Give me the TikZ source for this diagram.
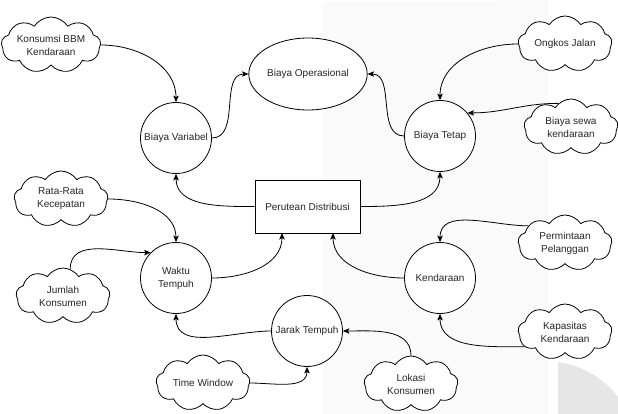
\documentclass[tikz,border=0pt]{standalone}
\usepackage{fontspec}
\setmainfont{Liberation Sans}
\usetikzlibrary{shapes.symbols,shapes.geometric,arrows.meta}
\definecolor{wmA}{HTML}{FAFAFA}
\definecolor{wmB}{HTML}{E6E6E6}
\begin{document}
\begin{tikzpicture}[x=1pt,y=-1pt,
  every node/.style={font=\fontsize{10}{13}\selectfont, text=black!85, align=center, inner sep=1pt},
  cloudbox/.style={cloud, cloud puffs=9, cloud puff arc=115, draw, line width=0.8pt, fill=white,
     minimum width=94pt, minimum height=56pt, cloud ignores aspect},
  circbox/.style={circle, draw, line width=0.8pt, fill=white, minimum size=71pt},
  link/.style={draw, line width=0.8pt, -{Stealth[length=6.5pt,width=5.5pt,inset=1.5pt]}}
]
\useasboundingbox (0,0) rectangle (618,414);
\fill[white] (0,0) rectangle (618,414);
% faint watermark
\fill[wmA] (323,414) -- (323,2) -- (488,2) arc[start angle=90,end angle=0,radius=60] -- (548,414) -- cycle;
\fill[wmB] (558,414) -- (558,362) .. controls (585,366) and (605,380) .. (618,397) -- (618,414) -- cycle;

% nodes
\node[ellipse, draw, line width=0.8pt, fill=white, minimum width=107pt, minimum height=72pt] (bo) at (308,74) {Biaya Operasional};
\node[circbox] (bv) at (176,138) {Biaya Variabel};
\node[circbox] (bt) at (440,136) {Biaya Tetap};
\node[rectangle, draw, line width=0.8pt, fill=white, minimum width=105pt, minimum height=53pt] (pd) at (307.5,206.5) {Perutean Distribusi};
\node[circbox] (wt) at (176,278) {Waktu\\Tempuh};
\node[circbox] (jt) at (307,331) {Jarak Tempuh};
\node[circbox] (kd) at (440,278) {Kendaraan};

\node[cloudbox] (kbbm) at (51,45) {Konsumsi BBM\\Kendaraan};
\node[cloudbox] (oj) at (565,44) {Ongkos Jalan};
\node[cloudbox] (bs) at (571,127) {Biaya sewa\\kendaraan};
\node[cloudbox] (rr) at (61,199) {Rata-Rata\\Kecepatan};
\node[cloudbox] (jk) at (63,296) {Jumlah\\Konsumen};
\node[cloudbox] (tw) at (203,383) {Time Window};
\node[cloudbox] (pp) at (565,243) {Permintaan\\Pelanggan};
\node[cloudbox] (kk) at (565,332) {Kapasitas\\Kendaraan};
\node[cloudbox] (lk) at (411,384) {Lokasi\\Konsumen};

\coordinate (pdA) at (282,233);
\coordinate (pdB) at (333,233);

% connectors
\draw[link] (kbbm.east) to[out=0,in=90] (bv.north);
\draw[link] (bv.east) to[out=0,in=180] (bo.west);
\draw[link] (bt.west) to[out=180,in=0] (bo.east);
\draw[link] (oj.west) to[out=180,in=90] (bt.north);
\draw[link] (bs.118) to[out=180,in=0] (bt.40);
\draw[link] (pd.west) to[out=180,in=-90] (bv.south);
\draw[link] (pd.east) to[out=0,in=-90] (bt.south);
\draw[link] (rr.east) to[out=0,in=90] (wt.north);
\draw[link] (jk.75) to[out=90,in=180] (wt.135);
\draw[link] (wt.east) to[out=0,in=-90] (pdA);
\draw[link] (jt.west) to[out=180,in=-90] (wt.south);
\draw[link] (tw.east) to[out=0,in=-90] (jt.south);
\draw[link] (lk.north) to[out=90,in=0] (jt.east);
\draw[link] (kd.west) to[out=180,in=-90] (pdB);
\draw[link] (pp.155) to[out=180,in=90] (kd.north);
\draw[link] (kk.200) to[out=180,in=-90] (kd.south);
\end{tikzpicture}
\end{document}
